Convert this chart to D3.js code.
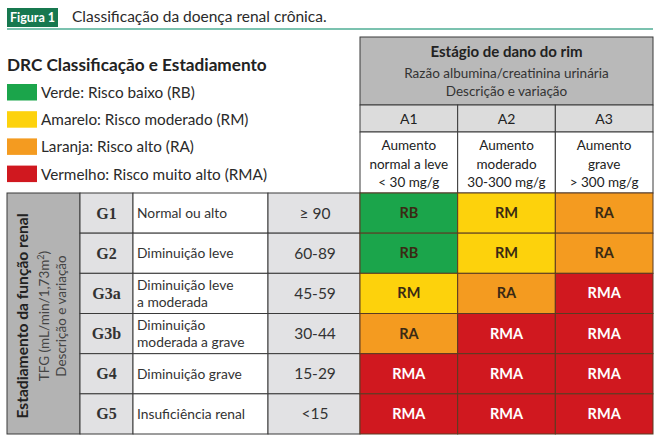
<!DOCTYPE html>
<html>
<head>
<meta charset="utf-8">
<script src="https://cdn.jsdelivr.net/npm/d3@7"></script>
<style>
  body { margin: 0; background: #fff; }
  svg { display: block; font-family: Lato, "Open Sans", sans-serif; }
</style>
</head>
<body>
<svg></svg>
<script>
// legend
var riskCodes = ["RB", "RM", "RA", "RMA"];
var riskColors = ["#1ba54b", "#fdd20c", "#f49b20", "#d0181f"];
var riskLabels = ["Verde: Risco baixo (RB)", "Amarelo: Risco moderado (RM)",
                  "Laranja: Risco alto (RA)", "Vermelho: Risco muito alto (RMA)"];

// albuminuria columns
var aCats = ["A1", "A2", "A3"];
var aDesc = [["Aumento", "normal a leve", "< 30 mg/g"],
             ["Aumento", "moderado", "30-300 mg/g"],
             ["Aumento", "grave", "> 300 mg/g"]];

// GFR rows
var gCats = ["G1", "G2", "G3a", "G3b", "G4", "G5"];
var gDesc = [["Normal ou alto"], ["Diminuição leve"], ["Diminuição leve", "a moderada"],
             ["Diminuição", "moderada a grave"], ["Diminuição grave"], ["Insuficiência renal"]];
var gRange = ["≥ 90", "60-89", "45-59", "30-44", "15-29", "<15"];

// risk matrix (row = G stage, col = A stage)
var risk = [["RB", "RM", "RA"],
            ["RB", "RM", "RA"],
            ["RM", "RA", "RMA"],
            ["RA", "RMA", "RMA"],
            ["RMA", "RMA", "RMA"],
            ["RMA", "RMA", "RMA"]];

var svg = d3.select("svg").attr("width", 660).attr("height", 445);

var color = d3.scaleOrdinal().domain(riskCodes).range(riskColors);
var y = d3.scaleBand().domain(gCats).range([193, 434]);
var x = d3.scaleBand().domain(aCats).range([360, 653]);
var leftCols = d3.scaleOrdinal()
    .domain(["label", "g", "desc", "range", "end"])
    .range([7, 80, 133, 268, 360]);
var lineColor = "#3a3a3a";

// title bar
svg.append("rect").attr("x", 7).attr("y", 8).attr("width", 51).attr("height", 19).attr("fill", "#17784f");
svg.append("text").attr("x", 32.5).attr("y", 22).attr("text-anchor", "middle")
    .attr("fill", "#fff").attr("font-size", 12.5).attr("font-weight", "bold").text("Figura 1");
svg.append("text").attr("x", 72).attr("y", 22).attr("fill", "#2a2a2a")
    .attr("font-size", 15.5).text("Classificação da doença renal crônica.");
svg.append("line").attr("x1", 7).attr("x2", 653).attr("y1", 29).attr("y2", 29)
    .attr("stroke", "#4fae95").attr("stroke-width", 1.5);

// legend
svg.append("text").attr("x", 7).attr("y", 71).attr("font-size", 17.2).attr("font-weight", "bold")
    .attr("fill", "#222").text("DRC Classificação e Estadiamento");
var legendY = d3.scaleBand().domain(riskCodes).range([84, 183]).paddingInner(0.36).paddingOuter(0);
var leg = svg.append("g").selectAll("g").data(riskCodes).enter().append("g");
leg.append("rect").attr("x", 7).attr("y", function(d) { return legendY(d); })
    .attr("width", 30).attr("height", 16.5).attr("fill", function(d) { return color(d); });
leg.append("text").attr("x", 41).attr("y", function(d) { return legendY(d) + 14; })
    .attr("font-size", 15.3).attr("fill", "#2a2a2a")
    .text(function(d, i) { return riskLabels[i]; });

// header block
svg.append("rect").attr("x", 360).attr("y", 37).attr("width", 293).attr("height", 68)
    .attr("fill", "#b9b9b9").attr("stroke", lineColor);
svg.append("text").attr("x", 506.5).attr("y", 57).attr("text-anchor", "middle")
    .attr("font-size", 15).attr("font-weight", "bold").attr("fill", "#222").text("Estágio de dano do rim");
svg.append("text").attr("x", 506.5).attr("y", 78).attr("text-anchor", "middle")
    .attr("font-size", 13.5).attr("fill", "#333").text("Razão albumina/creatinina urinária");
svg.append("text").attr("x", 506.5).attr("y", 96).attr("text-anchor", "middle")
    .attr("font-size", 13.5).attr("fill", "#333").text("Descrição e variação");

var aCol = svg.append("g").selectAll("g").data(aCats).enter().append("g");
aCol.append("rect").attr("x", function(d) { return x(d); }).attr("y", 105)
    .attr("width", x.bandwidth()).attr("height", 27)
    .attr("fill", "#dcdcdc").attr("stroke", lineColor);
aCol.append("text").attr("x", function(d) { return x(d) + x.bandwidth() / 2; }).attr("y", 124)
    .attr("text-anchor", "middle").attr("font-size", 14).attr("fill", "#222").text(function(d) { return d; });
aCol.append("rect").attr("x", function(d) { return x(d); }).attr("y", 132)
    .attr("width", x.bandwidth()).attr("height", 61)
    .attr("fill", "#fff").attr("stroke", lineColor);
aCol.each(function(d, i) {
    d3.select(this).append("text").attr("text-anchor", "middle").attr("font-size", 13.5).attr("fill", "#222")
        .selectAll("tspan").data(aDesc[i]).enter().append("tspan")
        .attr("x", x(d) + x.bandwidth() / 2)
        .attr("y", function(t, j) { return 150 + j * 18.5; })
        .text(function(t) { return t; });
});

// left vertical label block
svg.append("rect").attr("x", leftCols("label")).attr("y", 193)
    .attr("width", leftCols("g") - leftCols("label")).attr("height", 241)
    .attr("fill", "#b3b3b3").attr("stroke", lineColor);
var vt = svg.append("g").attr("transform", "translate(0," + 316 + ") rotate(-90)");
vt.append("text").attr("x", 0).attr("y", 28).attr("text-anchor", "middle")
    .attr("font-size", 15.6).attr("font-weight", "bold").attr("fill", "#222").text("Estadiamento da função renal");
var tfc = vt.append("text").attr("x", 0).attr("y", 49).attr("text-anchor", "middle")
    .attr("font-size", 13.5).attr("fill", "#444");
tfc.append("tspan").text("TFG (mL/min/1,73m");
tfc.append("tspan").attr("font-size", 9).attr("dy", -5).text("2");
tfc.append("tspan").attr("dy", 5).text(")");
vt.append("text").attr("x", 0).attr("y", 66).attr("text-anchor", "middle")
    .attr("font-size", 13.5).attr("fill", "#444").text("Descrição e variação");

// GFR rows
var row = svg.append("g").selectAll("g").data(gCats).enter().append("g");
row.append("rect").attr("x", leftCols("g")).attr("y", function(d) { return y(d); })
    .attr("width", leftCols("desc") - leftCols("g")).attr("height", y.bandwidth())
    .attr("fill", "#e1e1e3").attr("stroke", lineColor);
row.append("text").attr("x", (leftCols("g") + leftCols("desc")) / 2)
    .attr("y", function(d) { return y(d) + y.bandwidth() / 2 + 5.5; })
    .attr("text-anchor", "middle").attr("font-family", "'Liberation Serif', serif")
    .attr("font-size", 16).attr("font-weight", "bold").attr("fill", "#333")
    .text(function(d) { return d; });
row.append("rect").attr("x", leftCols("desc")).attr("y", function(d) { return y(d); })
    .attr("width", leftCols("range") - leftCols("desc")).attr("height", y.bandwidth())
    .attr("fill", "#fff").attr("stroke", lineColor);
row.each(function(d, i) {
    var lines = gDesc[i];
    var y0 = y(d) + y.bandwidth() / 2 + 5 - (lines.length - 1) * 8.5;
    d3.select(this).append("text").attr("font-size", 13.8).attr("fill", "#333")
        .selectAll("tspan").data(lines).enter().append("tspan")
        .attr("x", leftCols("desc") + 4)
        .attr("y", function(t, j) { return y0 + j * 17; })
        .text(function(t) { return t; });
});
row.append("rect").attr("x", leftCols("range")).attr("y", function(d) { return y(d); })
    .attr("width", leftCols("end") - leftCols("range")).attr("height", y.bandwidth())
    .attr("fill", "#e2e2e4").attr("stroke", lineColor);
row.append("text").attr("x", (leftCols("range") + leftCols("end")) / 2 + 1)
    .attr("y", function(d) { return y(d) + y.bandwidth() / 2 + 5.5; })
    .attr("text-anchor", "middle").attr("font-size", 15.5).attr("fill", "#333")
    .text(function(d, i) { return gRange[i]; });

// risk cells
var cells = [];
gCats.forEach(function(g, i) {
    aCats.forEach(function(a, j) { cells.push({ g: g, a: a, r: risk[i][j] }); });
});
var cell = svg.append("g").selectAll("g").data(cells).enter().append("g");
cell.append("rect").attr("x", function(d) { return x(d.a); }).attr("y", function(d) { return y(d.g); })
    .attr("width", x.bandwidth()).attr("height", y.bandwidth())
    .attr("fill", function(d) { return color(d.r); }).attr("stroke", "#5a3b22");
cell.append("text").attr("x", function(d) { return x(d.a) + x.bandwidth() / 2; })
    .attr("y", function(d) { return y(d.g) + y.bandwidth() / 2 + 5; })
    .attr("text-anchor", "middle").attr("font-size", 14.5).attr("font-weight", "bold")
    .attr("fill", function(d) { return d.r === "RMA" ? "#fff" : "#3a2a14"; })
    .text(function(d) { return d.r; });
</script>
</body>
</html>
